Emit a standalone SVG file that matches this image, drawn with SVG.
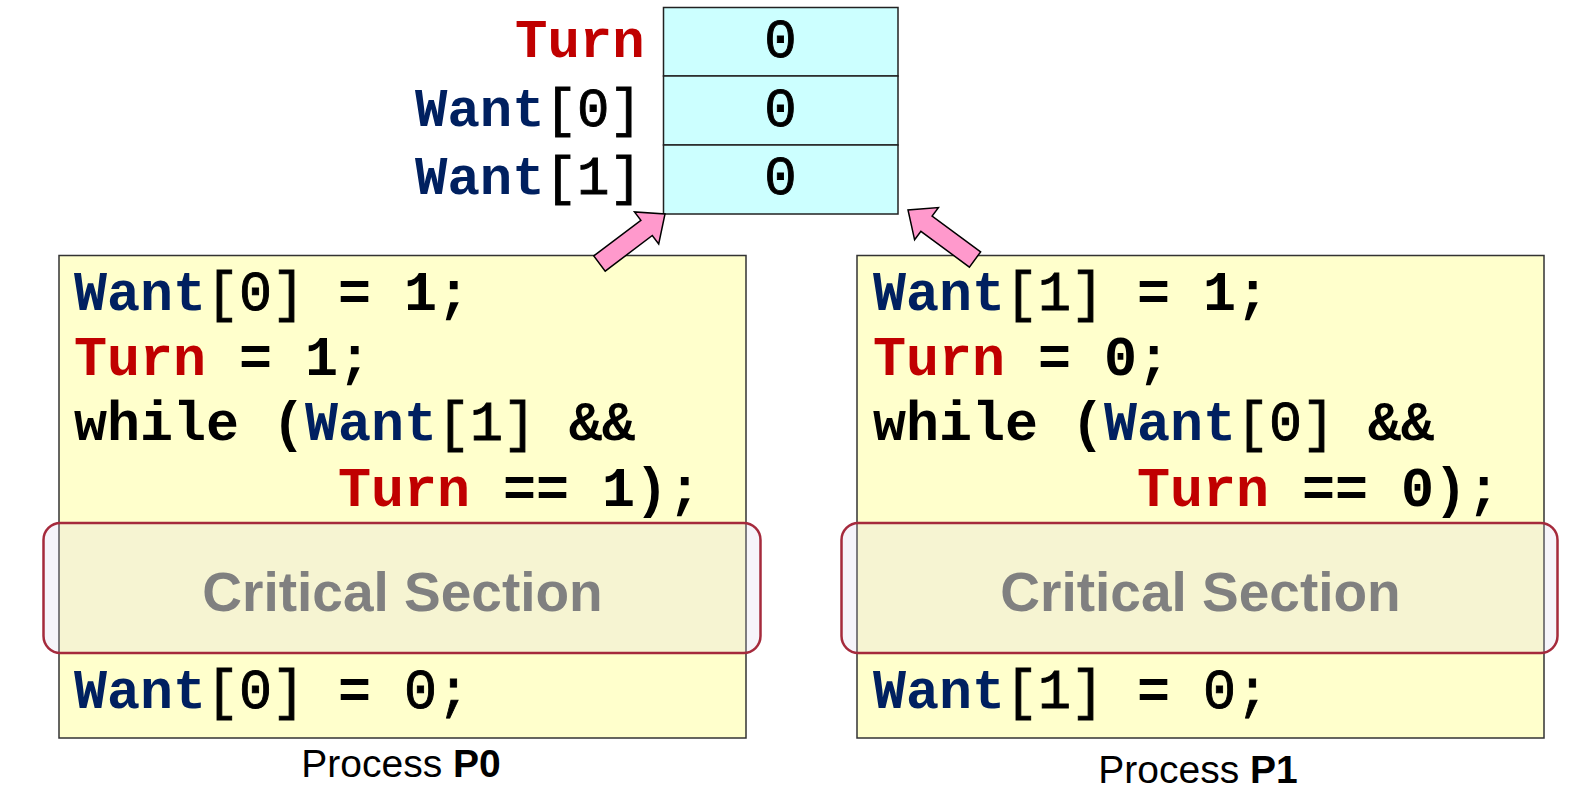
<svg xmlns="http://www.w3.org/2000/svg" width="1595" height="797" viewBox="0 0 1595 797">
<style>
.code{font-family:"Liberation Mono","Courier New",monospace;font-size:55px;font-weight:bold;fill:#000}
.lbl{font-size:54px}
.r{font-weight:normal;stroke:#000;stroke-width:0.9}
.w{fill:#002060}
.t{fill:#C00000}
.box{fill:#FFFFCC;stroke:#333;stroke-width:1.5}
.cell{fill:#CCFFFF;stroke:#222;stroke-width:1.5}
.crit{fill:#d8cfe8;fill-opacity:0.22;stroke:#A52A3C;stroke-width:2.5}
.cs{font-family:"Liberation Sans",Arial,sans-serif;font-size:55px;font-weight:bold;fill:#808080;text-anchor:middle}
.cap{font-family:"Liberation Sans",Arial,sans-serif;font-size:39px;fill:#000;text-anchor:middle}
.val{font-family:"Liberation Mono","Courier New",monospace;font-size:54px;fill:#000;stroke:#000;stroke-width:0.9;text-anchor:middle}
.arrow{fill:#FF99CC;stroke:#000;stroke-width:1.5;stroke-linejoin:miter}
</style>
<rect width="1595" height="797" fill="#fff"/>
<g id="shared-vars">
<rect class="cell" x="663.5" y="7.5" width="234.5" height="68.5"/>
<rect class="cell" x="663.5" y="76" width="234.5" height="69"/>
<rect class="cell" x="663.5" y="145" width="234.5" height="69"/>
<text class="val" x="780.5" y="57">0</text>
<text class="val" x="780.5" y="126">0</text>
<text class="val" x="780.5" y="194">0</text>
<text class="code lbl t" x="515" y="57">Turn</text>
<text class="code lbl" x="415" y="126"><tspan class="w">Want</tspan><tspan class="r">[0]</tspan></text>
<text class="code lbl" x="415" y="194"><tspan class="w">Want</tspan><tspan class="r">[1]</tspan></text>
</g>
<g id="process-p0">
<rect class="box" x="59" y="255.5" width="687" height="482.5"/>
<rect class="crit" x="43.5" y="523" width="717" height="130" rx="17"/>
<text class="code" x="74" y="310" xml:space="preserve"><tspan class="w">Want</tspan><tspan class="r">[0]</tspan> = 1;</text>
<text class="code" x="74" y="375" xml:space="preserve"><tspan class="t">Turn</tspan> = 1;</text>
<text class="code" x="74" y="440" xml:space="preserve">while (<tspan class="w">Want</tspan><tspan class="r">[1]</tspan> &amp;&amp;</text>
<text class="code" x="338" y="506" xml:space="preserve"><tspan class="t">Turn</tspan> == 1);</text>
<text class="cs" x="402.5" y="611">Critical Section</text>
<text class="code" x="74" y="708" xml:space="preserve"><tspan class="w">Want</tspan><tspan class="r">[0]</tspan> = <tspan class="r">0;</tspan></text>
<text class="cap" x="401" y="777">Process <tspan font-weight="bold">P0</tspan></text>
</g>
<g id="process-p1">
<rect class="box" x="857" y="255.5" width="687" height="482.5"/>
<rect class="crit" x="841.5" y="523" width="716" height="130" rx="17"/>
<text class="code" x="873" y="310" xml:space="preserve"><tspan class="w">Want</tspan><tspan class="r">[1]</tspan> = 1;</text>
<text class="code" x="873" y="375" xml:space="preserve"><tspan class="t">Turn</tspan> = 0;</text>
<text class="code" x="873" y="440" xml:space="preserve">while (<tspan class="w">Want</tspan><tspan class="r">[0]</tspan> &amp;&amp;</text>
<text class="code" x="1137" y="506" xml:space="preserve"><tspan class="t">Turn</tspan> == 0);</text>
<text class="cs" x="1200.5" y="611">Critical Section</text>
<text class="code" x="873" y="708" xml:space="preserve"><tspan class="w">Want</tspan><tspan class="r">[1]</tspan> = <tspan class="r">0;</tspan></text>
<text class="cap" x="1198" y="783">Process <tspan font-weight="bold">P1</tspan></text>
</g>
<g id="connectors">
<polygon class="arrow" points="593.8,255.9 640.9,220.3 634.5,211.9 665,214 658.7,243.9 652.3,235.5 605.2,271.1"/>
<polygon class="arrow" points="980.6,251.9 932.1,216.1 938.4,207.6 908,210 914.6,239.8 920.9,231.3 969.4,267.1"/>
</g>
</svg>
